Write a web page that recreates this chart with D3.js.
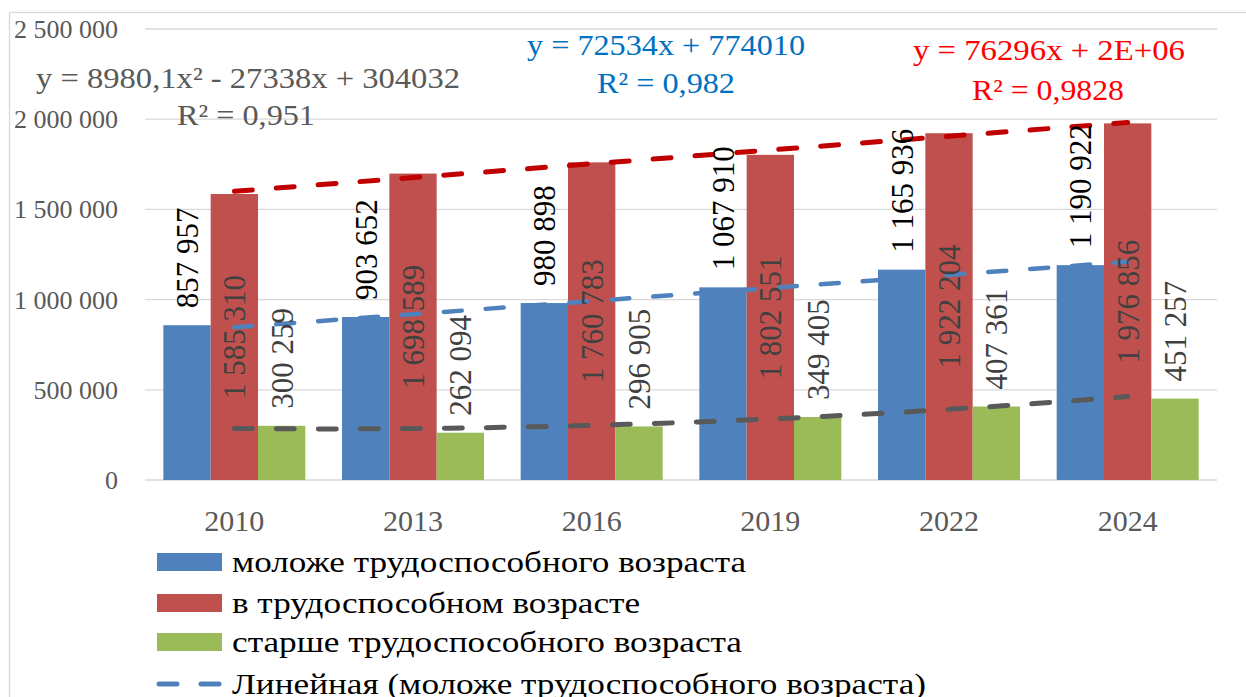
<!DOCTYPE html>
<html><head><meta charset="utf-8">
<script src="https://cdn.jsdelivr.net/npm/d3@7"></script>
<style>
html,body{margin:0;padding:0;background:#fff;}
svg{display:block;}
text{font-family:"Liberation Serif","Times New Roman",serif;}
</style></head>
<body>
<svg id="chart" width="1246" height="697"></svg>
<script>
const years = ["2010","2013","2016","2019","2022","2024"];
const seriesNames = ["моложе трудоспособного возраста","в трудоспособном возрасте","старше трудоспособного возраста"];
const younger = [857957, 903652, 980898, 1067910, 1165936, 1190922];
const working = [1585310, 1698589, 1760783, 1802551, 1922204, 1976856];
const older   = [300259, 262094, 296905, 349405, 407361, 451257];
const yTicks = [0, 500000, 1000000, 1500000, 2000000, 2500000];
const polyCoef = [304032, -27338, 8980.1]; // c0 + c1 x + c2 x^2
const eqGray = ["y = 8980,1x² - 27338x + 304032", "R² = 0,951"];
const eqBlue = ["y = 72534x + 774010", "R² = 0,982"];
const eqRed  = ["y = 76296x + 2E+06", "R² = 0,9828"];
const legendTrend = "Линейная (моложе трудоспособного возраста)";

const colors = ["#4F81BD","#C0504D","#9BBB59"];
const values = [younger, working, older];
const fmt = v => d3.format(",")(v).replace(/,/g, " ");

const svg = d3.select("#chart");
// outer chart border
svg.append("rect").attr("x",9.5).attr("y",12.5).attr("width",1250).attr("height",700)
  .attr("fill","none").attr("stroke","#d9d9d9").attr("stroke-width",1.3);

const y = d3.scaleLinear().domain([0,2500000]).range([480,29]);
const x0 = d3.scaleBand().domain(years).range([145,1217]).padding(0);
const gap = x0.bandwidth()*0.1027;
const x1 = d3.scaleBand().domain(d3.range(3)).range([gap, x0.bandwidth()-gap]).padding(0);

// gridlines
svg.append("g").selectAll("line").data(yTicks).join("line")
  .attr("x1",145).attr("x2",1217).attr("y1",d=>y(d)).attr("y2",d=>y(d))
  .attr("stroke","#d9d9d9").attr("stroke-width",1.3);

// y labels
svg.append("g").selectAll("text").data(yTicks).join("text")
  .attr("x",118).attr("y",d=>y(d)+9).attr("text-anchor","end")
  .attr("font-size",26).attr("fill","#595959").text(d=>fmt(d));

// x labels
svg.append("g").selectAll("text").data(years).join("text")
  .attr("x",d=>x0(d)+x0.bandwidth()/2).attr("y",531).attr("text-anchor","middle")
  .attr("font-size",30).attr("fill","#595959").text(d=>d);

// bars
const bars = [];
values.forEach((arr,s)=>arr.forEach((v,i)=>bars.push({s,i,v})));
svg.append("g").selectAll("rect").data(bars).join("rect")
  .attr("x",d=>x0(years[d.i])+x1(d.s)).attr("width",x1.bandwidth())
  .attr("y",d=>y(d.v)).attr("height",d=>y(0)-y(d.v))
  .attr("fill",d=>colors[d.s]);

// trendlines
const xs = d3.range(1,7);
function linreg(arr){
  const mx=d3.mean(xs), my=d3.mean(arr);
  const b=d3.sum(xs,(x,k)=>(x-mx)*(arr[k]-my))/d3.sum(xs,x=>(x-mx)*(x-mx));
  return [my-b*mx,b];
}
const xc = t => x0(years[0]) + x0.bandwidth()/2 + (t-1)*x0.step();
const line = d3.line().x(d=>xc(d[0])).y(d=>y(d[1]));
const rb = linreg(working), bb = linreg(younger);
const dash = "18 24";
function trend(pts,color,w){
  svg.append("path").attr("d",line(pts)).attr("fill","none").attr("stroke",color)
    .attr("stroke-width",w).attr("stroke-dasharray",dash).attr("stroke-linecap","round");
}
const tSamples = d3.range(1,6.0001,0.1);
trend(tSamples.map(t=>[t, polyCoef[0]+polyCoef[1]*t+polyCoef[2]*t*t]),"#595959",5);
trend([1,6].map(t=>[t, bb[0]+bb[1]*t]),"#4F81BD",4.5);
trend([1,6].map(t=>[t, rb[0]+rb[1]*t]),"#C00000",5);

// data labels
const lab = svg.append("g").attr("font-size",31);
bars.forEach(d=>{
  const cx = x0(years[d.i])+x1(d.s)+x1.bandwidth()/2 + 11;
  let cy, anchor, fill;
  if(d.s===1){ cy=(y(d.v)+y(0))/2; anchor="middle"; fill="#404040"; }
  else { cy=y(d.v)-17; anchor="start"; fill = d.s===0 ? "#000" : "#404040"; }
  lab.append("text").attr("transform",`translate(${cx},${cy}) rotate(-90)`)
    .attr("text-anchor",anchor).attr("fill",fill).text(fmt(d.v));
});

// equations
function eq(txt,x,yb,len,color){
  svg.append("text").attr("x",x).attr("y",yb).attr("font-size",30).attr("fill",color)
    .attr("textLength",len).attr("lengthAdjust","spacingAndGlyphs").text(txt);
}
eq(eqGray[0],36,88,424,"#595959");
eq(eqGray[1],177,125,138,"#595959");
eq(eqBlue[0],527,55,278,"#0070C0");
eq(eqBlue[1],597,93,138,"#0070C0");
eq(eqRed[0],913,60,272,"#FF0000");
eq(eqRed[1],972,100,152,"#FF0000");

// legend
const lg = svg.append("g");
const legRows = [562,603,642,684];
const legLens = [514,408,510,694];
seriesNames.forEach((n,k)=>{
  lg.append("rect").attr("x",157).attr("y",legRows[k]-9).attr("width",65).attr("height",18).attr("fill",colors[k]);
  lg.append("text").attr("x",232).attr("y",legRows[k]+10).attr("font-size",29).attr("fill","#000")
    .attr("textLength",legLens[k]).attr("lengthAdjust","spacingAndGlyphs").text(n);
});
lg.append("line").attr("x1",157).attr("x2",222).attr("y1",legRows[3]).attr("y2",legRows[3])
  .attr("stroke","#4F81BD").attr("stroke-width",5).attr("stroke-dasharray","18 24").attr("stroke-linecap","round")
  .attr("transform","translate(2,0)");
lg.append("text").attr("x",232).attr("y",legRows[3]+10).attr("font-size",29).attr("fill","#000")
  .attr("textLength",legLens[3]).attr("lengthAdjust","spacingAndGlyphs").text(legendTrend);
</script>
</body></html>
